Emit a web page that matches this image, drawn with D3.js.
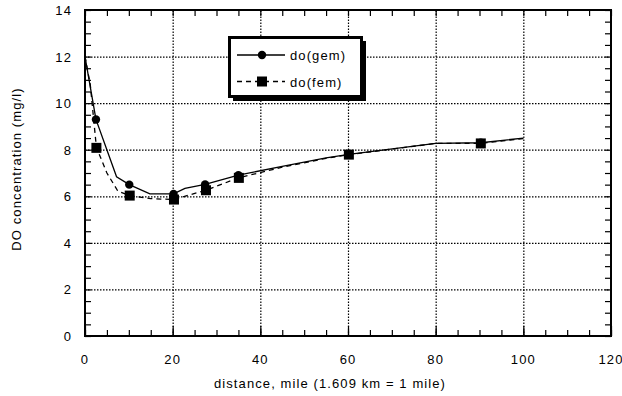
<!DOCTYPE html>
<html>
<head>
<meta charset="utf-8">
<title>DO concentration</title>
<style>
  body { margin: 0; background: #fff; }
  svg text { font-family: "Liberation Sans", Arial, sans-serif; font-size: 13px; letter-spacing: 1.1px; fill: #000; }
  .grid line { stroke: #000; stroke-width: 1.2px; stroke-dasharray: 1.5,1.5; }
  .grid path { display: none; }
  .ticks path { display: none; }
  .ticks line { stroke: #000; stroke-width: 1.2px; }
</style>
</head>
<body>
<svg width="622" height="396"></svg>
<script src="https://d3js.org/d3.v7.min.js"></script>
<script>
// curve for do(gem), solid line
var gemCurveDist = [0, 2.5, 7.2, 10.1, 14.8, 20.2, 22.8, 27.4, 35, 45, 55, 60.2, 80, 90.3, 100];
var gemCurveDo   = [12, 9.3, 6.84, 6.5, 6.1, 6.1, 6.34, 6.51, 6.91, 7.28, 7.65, 7.8, 8.27, 8.3, 8.5];
// curve for do(fem), dashed line
var femCurveDist = [0, 1.2, 2.6, 5, 7.5, 10.2, 15, 20.2, 27.6, 35, 45, 55, 60.2, 80, 90.3, 100];
var femCurveDo   = [12, 10.8, 8.1, 7.0, 6.22, 6.03, 5.9, 5.86, 6.26, 6.79, 7.25, 7.63, 7.79, 8.27, 8.27, 8.48];
// marked points
var gemPointDist = [2.5, 10.1, 20.2, 27.4, 35, 60.2, 90.3];
var gemPointDo   = [9.3, 6.5, 6.1, 6.51, 6.91, 7.8, 8.3];
var femPointDist = [2.6, 10.2, 20.3, 27.6, 35.1, 60.2, 90.3];
var femPointDo   = [8.08, 6.03, 5.86, 6.26, 6.79, 7.79, 8.27];

var xMajor = [0, 20, 40, 60, 80, 100, 120];
var yMajor = [0, 2, 4, 6, 8, 10, 12, 14];
var seriesNames = ["do(gem)", "do(fem)"];
var xTitle = "distance, mile (1.609 km = 1 mile)";
var yTitle = "DO concentration (mg/l)";

var svg = d3.select("svg");
var pLeft = 85, pRight = 611, pTop = 10, pBottom = 336;

var x = d3.scaleLinear().domain([0, 120]).range([pLeft, pRight]);
var y = d3.scaleLinear().domain([0, 14]).range([pBottom, pTop]);

var xMinor = d3.range(0, 121, 5);
var yMinor = d3.range(0, 14.01, 0.5);

// grid
svg.append("g").attr("class", "grid")
  .attr("transform", "translate(0," + pBottom + ")")
  .call(d3.axisBottom(x).tickValues(xMajor.slice(1, -1)).tickSize(-(pBottom - pTop)).tickFormat(""));
svg.append("g").attr("class", "grid")
  .attr("transform", "translate(" + pLeft + ",0)")
  .call(d3.axisLeft(y).tickValues(yMajor.slice(1, -1)).tickSize(-(pRight - pLeft)).tickFormat(""));

// minor ticks pointing inwards, all four sides
svg.append("g").attr("class", "ticks")
  .attr("transform", "translate(0," + pBottom + ")")
  .call(d3.axisBottom(x).tickValues(xMinor).tickSize(-6).tickFormat(""));
svg.append("g").attr("class", "ticks")
  .attr("transform", "translate(0," + pBottom + ")")
  .call(d3.axisBottom(x).tickValues(xMajor).tickSize(-10).tickFormat(""));
svg.append("g").attr("class", "ticks")
  .attr("transform", "translate(0," + pTop + ")")
  .call(d3.axisTop(x).tickValues(xMinor).tickSize(-6).tickFormat(""));
svg.append("g").attr("class", "ticks")
  .attr("transform", "translate(" + pLeft + ",0)")
  .call(d3.axisLeft(y).tickValues(yMinor).tickSize(-6).tickFormat(""));
svg.append("g").attr("class", "ticks")
  .attr("transform", "translate(" + pRight + ",0)")
  .call(d3.axisRight(y).tickValues(yMinor).tickSize(-6).tickFormat(""));

// frame
svg.append("rect")
  .attr("x", pLeft).attr("y", pTop)
  .attr("width", pRight - pLeft).attr("height", pBottom - pTop)
  .attr("fill", "none").attr("stroke", "#000").attr("stroke-width", 2);

// tick labels
svg.append("g").selectAll("text").data(xMajor).enter().append("text")
  .attr("x", function(d) { return x(d); })
  .attr("y", 364)
  .attr("text-anchor", "middle")
  .text(function(d) { return d; });
svg.append("g").selectAll("text").data(yMajor).enter().append("text")
  .attr("x", 72)
  .attr("y", function(d) { return y(d) + 5; })
  .attr("text-anchor", "end")
  .text(function(d) { return d; });

// axis titles
svg.append("text")
  .attr("x", 330).attr("y", 388)
  .attr("text-anchor", "middle")
  .text(xTitle);
svg.append("text")
  .attr("transform", "translate(21,169) rotate(-90)")
  .attr("text-anchor", "middle")
  .text(yTitle);

// lines
var line = d3.line()
  .x(function(d) { return x(d[0]); })
  .y(function(d) { return y(d[1]); });

svg.append("path")
  .datum(d3.zip(femCurveDist, femCurveDo))
  .attr("d", line)
  .attr("fill", "none").attr("stroke", "#000").attr("stroke-width", 1.3)
  .attr("stroke-dasharray", "5,4");
svg.append("path")
  .datum(d3.zip(gemCurveDist, gemCurveDo))
  .attr("d", line)
  .attr("fill", "none").attr("stroke", "#000").attr("stroke-width", 1.3);

// markers
svg.append("g").selectAll("circle").data(d3.zip(gemPointDist, gemPointDo)).enter().append("circle")
  .attr("cx", function(d) { return x(d[0]); })
  .attr("cy", function(d) { return y(d[1]); })
  .attr("r", 4.2)
  .attr("fill", "#000");
svg.append("g").selectAll("rect").data(d3.zip(femPointDist, femPointDo)).enter().append("rect")
  .attr("x", function(d) { return x(d[0]) - 5; })
  .attr("y", function(d) { return y(d[1]) - 5; })
  .attr("width", 10).attr("height", 10)
  .attr("fill", "#000");

// legend
var lg = svg.append("g");
lg.append("rect").attr("x", 233).attr("y", 41).attr("width", 133).attr("height", 60).attr("fill", "#000");
lg.append("rect").attr("x", 229.5).attr("y", 37.5).attr("width", 132).attr("height", 59)
  .attr("fill", "#fff").attr("stroke", "#000").attr("stroke-width", 3);

lg.append("line").attr("x1", 237).attr("x2", 285).attr("y1", 55).attr("y2", 55)
  .attr("stroke", "#000").attr("stroke-width", 1.3);
lg.append("circle").attr("cx", 262).attr("cy", 55).attr("r", 4.2).attr("fill", "#000");
lg.append("line").attr("x1", 237).attr("x2", 285).attr("y1", 81.5).attr("y2", 81.5)
  .attr("stroke", "#000").attr("stroke-width", 1.3).attr("stroke-dasharray", "5,4");
lg.append("rect").attr("x", 257).attr("y", 76.5).attr("width", 10).attr("height", 10).attr("fill", "#000");

lg.selectAll("text.lab").data(seriesNames).enter().append("text")
  .attr("class", "lab")
  .attr("x", 290)
  .attr("y", function(d, i) { return 60 + i * 26.5; })
  .text(function(d) { return d; });
</script>
</body>
</html>
